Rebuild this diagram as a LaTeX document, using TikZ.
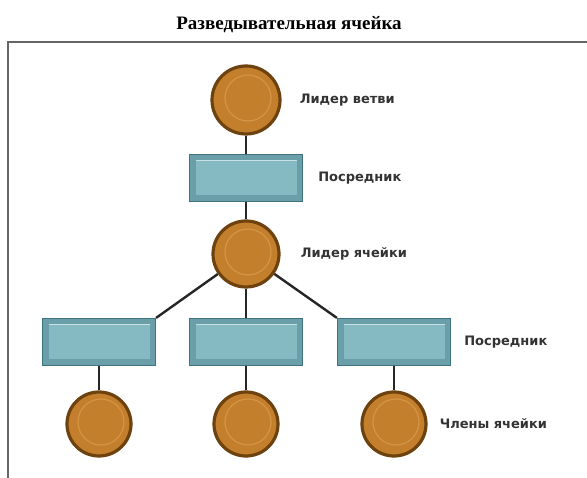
\documentclass[tikz,border=0pt]{standalone}
\usepackage{fontspec}
\setmainfont{Liberation Serif}
\newfontfamily\etiqfont{DejaVu Sans}
\usepackage{tikz}
\usetikzlibrary{shapes,positioning}
\definecolor{cuerpo}{HTML}{C47F2D}
\definecolor{borde}{HTML}{6E420F}
\definecolor{luz}{HTML}{D39545}
\definecolor{cajaborde}{HTML}{3E7480}
\definecolor{cajafondo}{HTML}{6A9FAA}
\definecolor{cajaluz}{HTML}{86BAC3}
\tikzstyle{lider} = [circle, minimum size=66pt, inner sep=0pt, fill=cuerpo, draw=borde, line width=3.2pt,
  path picture={\draw[luz, line width=1.2pt] ([xshift=2pt,yshift=2pt]path picture bounding box.center) circle (23pt);}]
\tikzstyle{enlace} = [rectangle, minimum width=113pt, minimum height=47pt, inner sep=0pt, fill=cajafondo, draw=cajaborde, line width=1.2pt,
  path picture={\fill[cajaluz] ([shift={(6pt,6pt)}]path picture bounding box.south west) rectangle ([shift={(-6pt,-6pt)}]path picture bounding box.north east);
                \draw[white!55!cajaluz, line width=1pt] ([shift={(6pt,-6pt)}]path picture bounding box.north west) -- ([shift={(-6pt,-6pt)}]path picture bounding box.north east);}]
\tikzstyle{etiqueta} = [inner sep=0pt, font=\etiqfont\bfseries\fontsize{13}{15}\selectfont, text=black!80]
\tikzstyle{linea} = [draw=black!85, line width=2.4pt]
\begin{document}
\begin{tikzpicture}[x=1pt, y=-1pt]
	\useasboundingbox (0,0) rectangle (587,478);
	% marco y titulo
	\draw[gray!80!black, line width=2.5pt] (8,478) -- (8,42) -- (587,42);
	\node[font=\bfseries\fontsize{19}{21}\selectfont] (titulo) at (289,25) {Разведывательная ячейка};
	% arbol
	\node[lider, minimum size=68pt] (rama) at (246,100) {};
	\node[enlace] (p0) at (246,178) {};
	\node[lider] (celda) at (246,254) {};
	\node[enlace] (p1) at (99,342) {};
	\node[enlace] (p2) at (246,342) {};
	\node[enlace] (p3) at (394,342) {};
	\node[lider, minimum size=64pt] (m1) at (99,424) {};
	\node[lider, minimum size=64pt] (m2) at (246,424) {};
	\node[lider, minimum size=64pt] (m3) at (394,424) {};
	% conexiones
	\draw[linea] (rama) -- (p0);
	\draw[linea] (p0) -- (celda);
	\draw[linea] (celda) -- (p1.north east);
	\draw[linea] (celda) -- (p2);
	\draw[linea] (celda) -- (p3.north west);
	\draw[linea] (p1) -- (m1);
	\draw[linea] (p2) -- (m2);
	\draw[linea] (p3) -- (m3);
	% etiquetas
	\node[etiqueta, right=18pt of rama] (t1) {Лидер ветви};
	\node[etiqueta, right=15pt of p0] (t2) {Посредник};
	\node[etiqueta, right=20pt of celda] (t3) {Лидер ячейки};
	\node[etiqueta, right=13pt of p3] (t4) {Посредник};
	\node[etiqueta, right=12pt of m3] (t5) {Члены ячейки};
\end{tikzpicture}
\end{document}
